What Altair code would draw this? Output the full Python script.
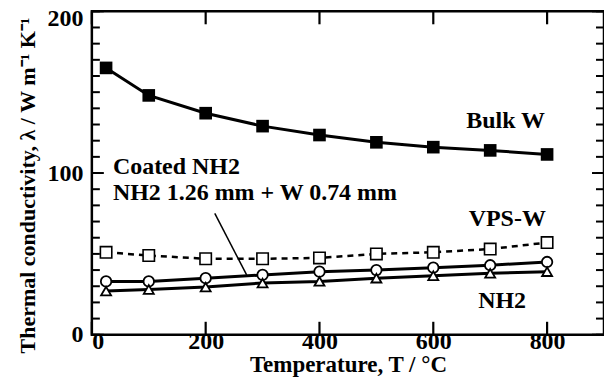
import altair as alt
import pandas as pd

# ---- data ----
temps = [25, 100, 200, 300, 400, 500, 600, 700, 800]
bulk_w = [165, 148, 137, 129, 123.5, 119, 116, 114, 111.5]
vps_w = [51, 49, 47, 47, 47.5, 50, 51, 53, 57]
coated_nh2 = [33, 33, 35, 37, 39, 40, 41.5, 43, 45]
nh2 = [27, 28, 29.5, 32, 33, 35, 36.5, 38, 39]

right_labels = ["Bulk W", "VPS-W", "NH2"]
right_label_x = [727, 730, 721]
right_label_y = [132, 71.5, 21]

left_labels = ["Coated NH2", "NH2 1.26 mm + W 0.74 mm"]
left_label_x = [37, 37]
left_label_y = [103.5, 87.5]

leader_x, leader_y, leader_x2, leader_y2 = [216], [75], [272], [37]

x_ticks = [0, 200, 400, 600, 800]
y_labels = [0, 100, 200]
y_minor_ticks = list(range(0, 201, 10))
y_major_ticks = [0, 100, 200]

FONT = "Liberation Serif"
W, H = 513, 324
TICK_COLOR = "black"

df = pd.DataFrame({"T": temps, "bulk": bulk_w, "vps": vps_w, "coated": coated_nh2, "nh2": nh2})
rl = pd.DataFrame({"t": right_labels, "x": right_label_x, "y": right_label_y})
ll = pd.DataFrame({"t": left_labels, "x": left_label_x, "y": left_label_y})
leader = pd.DataFrame({"x": leader_x, "y": leader_y, "x2": leader_x2, "y2": leader_y2})
xt = pd.DataFrame({"x": x_ticks})
ymin = pd.DataFrame({"y": y_minor_ticks})
ymaj = pd.DataFrame({"y": y_major_ticks})

xs = alt.Scale(domain=[0, 900], nice=False)
ys = alt.Scale(domain=[0, 200], nice=False)

x_axis = alt.Axis(values=x_ticks, ticks=False, domain=False, grid=False, labelPadding=-5,
                  labelFont=FONT, labelFontSize=24, labelFontWeight="bold", labelColor="black",
                  titleFont=FONT, titleFontSize=23, titleFontWeight="bold", titleColor="black",
                  titleBaseline="alphabetic", titleY=37)
y_axis = alt.Axis(values=y_labels, ticks=False, domain=False, grid=False, labelPadding=9,
                  labelOverlap=False,
                  labelOffset={"condition": {"test": "datum.value === 200", "value": 7}, "value": 0},
                  labelFont=FONT, labelFontSize=24, labelFontWeight="bold", labelColor="black",
                  titleFont=FONT, titleFontSize=22, titleFontWeight="bold", titleColor="black",
                  titleBaseline="alphabetic", titleX=-57, titleY=174)

X_TITLE = "Temperature, T / °C"
Y_TITLE = "Thermal conductivity, λ / W m⁻¹ K⁻¹"


def xe(field):
    return alt.X(f"{field}:Q", scale=xs, axis=x_axis, title=X_TITLE)


def ye(field):
    return alt.Y(f"{field}:Q", scale=ys, axis=y_axis, title=Y_TITLE)


def series(col):
    return alt.Chart(df).transform_calculate(v=f"datum.{col}")


lines = [
    series("bulk").mark_line(color="black", strokeWidth=3).encode(x=xe("T"), y=ye("v")),
    series("vps").mark_line(color="black", strokeWidth=2.5, strokeDash=[6, 5]).encode(x=xe("T"), y=ye("v")),
    series("coated").mark_line(color="black", strokeWidth=3).encode(x=xe("T"), y=ye("v")),
    series("nh2").mark_line(color="black", strokeWidth=3).encode(x=xe("T"), y=ye("v")),
]
points = [
    series("bulk").mark_point(shape="square", filled=True, color="black", size=160, opacity=1).encode(x=xe("T"), y=ye("v")),
    series("vps").mark_point(shape="square", fill="white", stroke="black", strokeWidth=1.6, size=130, opacity=1, fillOpacity=1).encode(x=xe("T"), y=ye("v")),
    series("coated").mark_point(shape="circle", fill="white", stroke="black", strokeWidth=1.8, size=110, opacity=1, fillOpacity=1).encode(x=xe("T"), y=ye("v")),
    series("nh2").mark_point(shape="triangle-up", fill="white", stroke="black", strokeWidth=1.8, size=100, opacity=1, fillOpacity=1).encode(x=xe("T"), y=ye("v")),
]

rtext = alt.Chart(rl).mark_text(font=FONT, fontSize=24, fontWeight="bold", color="black",
                                align="center", baseline="middle").encode(
    x=xe("x"), y=ye("y"), text="t:N")
ltext = alt.Chart(ll).mark_text(font=FONT, fontSize=24, fontWeight="bold", color="black",
                                align="left", baseline="middle").encode(
    x=xe("x"), y=ye("y"), text="t:N")
rule = alt.Chart(leader).mark_rule(color="black", strokeWidth=1.5).encode(
    x=xe("x"), y=ye("y"), x2="x2:Q", y2="y2:Q")

# inward tick marks on all four sides of the frame, placed through the scales
ticks = [
    alt.Chart(xt).mark_rule(color=TICK_COLOR, strokeWidth=2.2).encode(x=xe("x"), y=alt.value(H), y2=alt.value(H - 13)),
    alt.Chart(xt).mark_rule(color=TICK_COLOR, strokeWidth=2.2).encode(x=xe("x"), y=alt.value(0), y2=alt.value(13)),
    alt.Chart(ymin).mark_rule(color=TICK_COLOR, strokeWidth=2).encode(y=ye("y"), x=alt.value(0), x2=alt.value(8)),
    alt.Chart(ymin).mark_rule(color=TICK_COLOR, strokeWidth=2).encode(y=ye("y"), x=alt.value(W), x2=alt.value(W - 8)),
    alt.Chart(ymaj).mark_rule(color=TICK_COLOR, strokeWidth=2).encode(y=ye("y"), x=alt.value(0), x2=alt.value(12)),
    alt.Chart(ymaj).mark_rule(color=TICK_COLOR, strokeWidth=2).encode(y=ye("y"), x=alt.value(W), x2=alt.value(W - 12)),
]

chart = alt.layer(*lines, *points, rule, rtext, ltext, *ticks).properties(
    width=W, height=H,
    autosize=alt.AutoSizeParams(type="none"),
    padding={"left": 84, "top": 3, "right": 0, "bottom": 42},
    background="white",
).configure_view(stroke="black", strokeWidth=2.5)

chart.save("out.html", embed_options={"renderer": "svg", "actions": False})
